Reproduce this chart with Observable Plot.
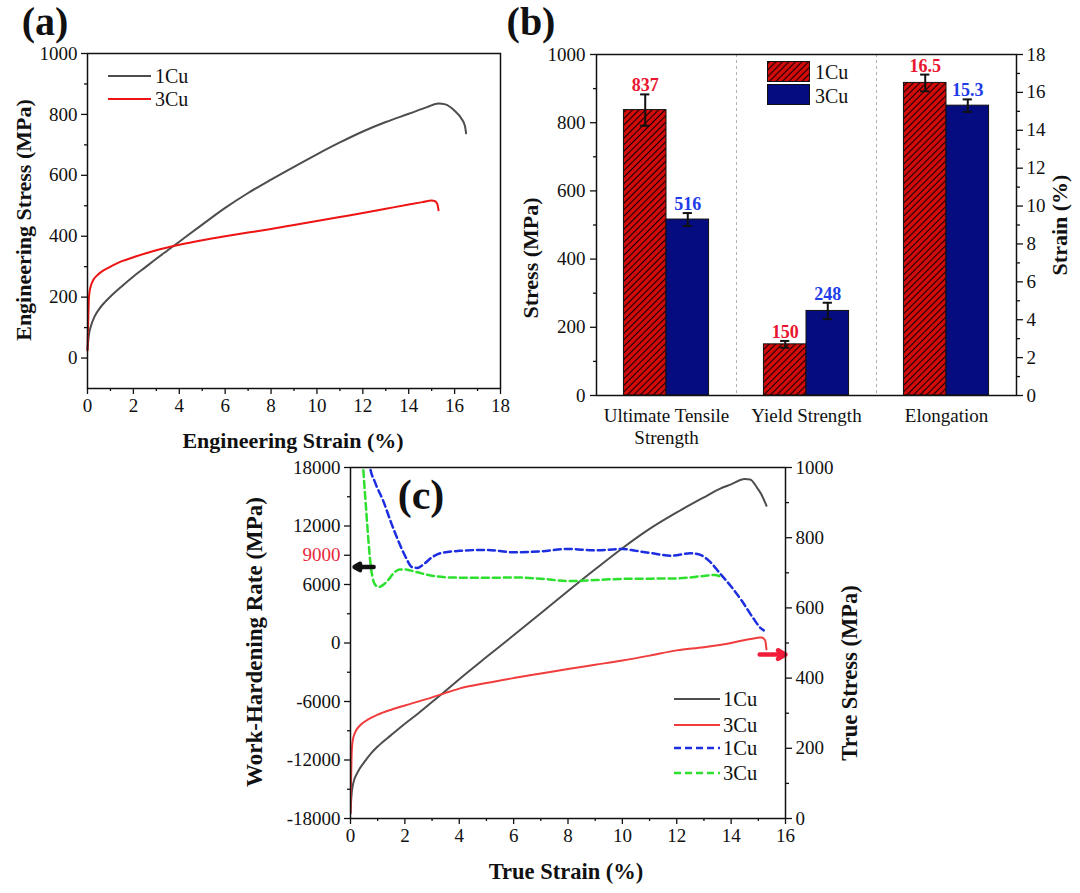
<!DOCTYPE html>
<html><head><meta charset="utf-8">
<script src="https://cdn.jsdelivr.net/npm/d3@7"></script>
<script src="https://cdn.jsdelivr.net/npm/@observablehq/plot@0.6"></script>
<style>
body{margin:0;background:#fff;}
#root{position:relative;width:1080px;height:893px;overflow:hidden;background:#fff;font-family:"Liberation Serif",serif;}
#root svg.pl{position:absolute;}
.t{position:absolute;white-space:nowrap;line-height:1;font-family:"Liberation Serif",serif;}
</style></head><body><div id="root"></div>
<script>
// ---------------- DATA ----------------
// (a) engineering stress-strain  [strain %, stress MPa]
const eng1Cu = [[0,28],[0.05,70],[0.15,105],[0.3,135],[0.5,160],[0.75,183],[1,202],[1.5,236],[2,268],[2.5,297],[3,326],[3.5,354],[4,382],[5,438],[6,493],[7,542],[8,586],[9,628],[10,669],[11,708],[12,744],[13,775],[14,802],[14.8,824],[15.3,836],[15.6,833],[16,812],[16.3,786],[16.45,762],[16.5,738]];
const eng3Cu = [[0,25],[0.03,120],[0.06,195],[0.1,222],[0.15,238],[0.25,256],[0.4,270],[0.6,283],[0.8,292],[1,300],[1.5,318],[2,331],[3,354],[4,372],[5,387],[6,400],[7,412],[8,424],[9,437],[10,450],[11,463],[12,476],[13,490],[14,504],[14.6,512],[15,517],[15.15,515],[15.25,505],[15.3,485]];

// (b) mechanical properties
const categories = ["Ultimate Tensile\nStrength", "Yield Strength", "Elongation"];
const series = ["1Cu", "3Cu"];
const values1Cu = [837, 150, 16.5];
const values3Cu = [516, 248, 15.3];
const errors1Cu = [46, 10, 0.44];
const errors3Cu = [19, 24, 0.33];
const onStrainAxis = [false, false, true];

// (c) true stress [strain %, MPa] and work-hardening rate [strain %, MPa]
const true1Cu = [[0,15],[0.03,60],[0.1,100],[0.25,130],[0.5,160],[0.75,185],[1,205],[1.5,238],[2,270],[2.5,300],[3,332],[3.5,364],[4,397],[5,460],[6,522],[7,585],[8,648],[9,710],[10,770],[11,825],[12,872],[13,915],[13.6,940],[14,952],[14.5,967],[14.7,966],[14.95,943],[15.1,925],[15.3,891]];
const true3Cu = [[0,15],[0.02,100],[0.04,180],[0.07,215],[0.12,235],[0.2,250],[0.35,265],[0.5,275],[0.75,287],[1,296],[1.5,310],[2,322],[3,345],[3.5,358],[4,370],[5,386],[6,400],[7,413],[8,426],[9,438],[10,450],[11,464],[12,479],[13,488],[14,500],[14.6,510],[15,515],[15.12,516],[15.25,508],[15.3,482]];
const whr1Cu = [[0.62,20000],[0.72,18000],[0.9,16500],[1.2,14600],[1.5,12300],[1.8,10200],[2.05,8700],[2.25,7800],[2.45,7700],[2.7,8100],[3.0,8800],[3.3,9200],[4,9450],[5,9550],[6,9300],[7,9400],[8,9650],[9,9500],[10,9650],[10.5,9450],[11,9250],[11.8,8950],[12.5,9200],[12.8,9100],[13.2,8400],[13.6,7100],[14.0,5800],[14.4,4300],[14.8,2600],[15.1,1500],[15.2,1300]];
const whr3Cu = [[0.42,20000],[0.49,17000],[0.58,13500],[0.66,10500],[0.75,7800],[0.85,6300],[0.95,5850],[1.05,5750],[1.2,5950],[1.4,6500],[1.6,7200],[1.8,7550],[2.0,7550],[2.4,7300],[3.0,6900],[3.5,6750],[4,6700],[5,6680],[6,6720],[7,6600],[8,6350],[9,6450],[10,6580],[11,6600],[12,6620],[13,6880],[13.4,6980],[13.6,6800]];
// annotation arrows in (c): black one points to left axis, red one to right axis
const arrowLeft = {from: 0.85, to: 0.15, rate: 7800};
const arrowRight = {from: 15.05, to: 16, stress: 467};

// ---------------- HELPERS ----------------
const root = document.getElementById("root");
const FONT = "Liberation Serif";
const INK = "#111";
function txt(t, x, y, o = {}) {
  const d = document.createElement("div");
  d.className = "t";
  d.textContent = t;
  d.style.left = x + "px"; d.style.top = y + "px";
  d.style.fontSize = (o.size || 20) + "px";
  d.style.fontWeight = o.bold ? "bold" : "normal";
  d.style.color = o.color || INK;
  const tx = o.anchor === "start" ? "0" : "-50%";
  d.style.transform = `translate(${tx},-50%)` + (o.rot ? " rotate(-90deg)" : "");
  root.appendChild(d);
}
function place(svg, left, top) {
  svg.classList.add("pl");
  svg.style.left = left + "px"; svg.style.top = top + "px";
  root.appendChild(svg);
  return svg;
}
const fmt = d => String(d);
const none = () => "";
const baseStyle = {fontFamily: FONT, fontSize: "19px", color: INK, background: "transparent", overflow: "visible"};
const P = d => d[0], Q = d => d[1];

// ---------------- PANEL (a) ----------------
const plotA = Plot.plot({
  width: 510, height: 460,
  marginLeft: 87, marginRight: 10, marginTop: 53, marginBottom: 72,
  style: baseStyle,
  x: {domain: [0, 18], axis: null},
  y: {domain: [-100, 1000], axis: null},
  marks: [
    Plot.axisX(d3.range(0, 19, 2), {anchor: "bottom", tickSize: 6, tickPadding: 4, tickFormat: fmt, label: null, fontSize: 19, strokeWidth: 1.3}),
    Plot.axisX(d3.range(1, 18, 2), {anchor: "bottom", tickSize: 3, tickFormat: none, label: null, strokeWidth: 1.3}),
    Plot.axisY(d3.range(0, 1001, 200), {anchor: "left", tickSize: 6, tickPadding: 4, tickFormat: fmt, label: null, fontSize: 19, strokeWidth: 1.3}),
    Plot.axisY(d3.range(100, 1000, 200), {anchor: "left", tickSize: 3, tickFormat: none, label: null, strokeWidth: 1.3}),
    Plot.line(eng1Cu, {x: P, y: Q, stroke: "#4d4d4d", strokeWidth: 2, curve: "monotone-x"}),
    Plot.line(eng3Cu, {x: P, y: Q, stroke: "#ee1414", strokeWidth: 2, curve: "monotone-x"}),
    Plot.frame({stroke: INK, strokeWidth: 1.5})
  ]
});
place(plotA, 0, 0);

// ---------------- PANEL (b) ----------------
const k = 1000 / 18; // strain % -> stress-axis units
const pairOffset = 0.196, barW = 0.304, capW = 0.033;
const rows = [];
categories.forEach((c, i) => {
  [[values1Cu, errors1Cu, "1Cu"], [values3Cu, errors3Cu, "3Cu"]].forEach(([vals, errs, s], j) => {
    const f = onStrainAxis[i] ? k : 1;
    const x1 = i + pairOffset + j * barW;
    rows.push({i, s, x1, x2: x1 + barW, xc: x1 + barW / 2, v: vals[i] * f, e: errs[i] * f, label: String(vals[i])});
  });
});
const r1 = rows.filter(d => d.s === "1Cu"), r3 = rows.filter(d => d.s === "3Cu");
const plotB = Plot.plot({
  width: 575, height: 460,
  marginLeft: 91, marginRight: 64, marginTop: 54, marginBottom: 65,
  style: baseStyle,
  x: {domain: [0, categories.length], axis: null},
  y: {domain: [0, 1000], axis: null},
  marks: [
    Plot.ruleX(d3.range(1, categories.length), {stroke: "#b0b0b0", strokeDasharray: "3,3", strokeWidth: 1}),
    Plot.rectY(r1, {x1: "x1", x2: "x2", y1: 0, y2: "v", fill: "url(#hatch)", stroke: INK, strokeWidth: 1}),
    Plot.rectY(r3, {x1: "x1", x2: "x2", y1: 0, y2: "v", fill: "#040c80", stroke: INK, strokeWidth: 1}),
    Plot.ruleX(rows, {x: "xc", y1: d => d.v - d.e, y2: d => d.v + d.e, stroke: INK, strokeWidth: 2}),
    Plot.ruleY(rows, {y: d => d.v + d.e, x1: d => d.xc - capW, x2: d => d.xc + capW, stroke: INK, strokeWidth: 2}),
    Plot.ruleY(rows, {y: d => d.v - d.e, x1: d => d.xc - capW, x2: d => d.xc + capW, stroke: INK, strokeWidth: 2}),
    Plot.text(r1, {x: "xc", y: d => d.v + d.e, text: "label", dy: -3, lineAnchor: "bottom", fill: "#e8162e", fontWeight: "bold", fontSize: 18}),
    Plot.text(r3, {x: "xc", y: d => d.v + d.e, text: "label", dy: -3, lineAnchor: "bottom", fill: "#1e3ce8", fontWeight: "bold", fontSize: 18}),
    Plot.axisY(d3.range(0, 1001, 200), {anchor: "left", tickSize: 6, tickPadding: 5, tickFormat: fmt, label: null, fontSize: 19, strokeWidth: 1.3}),
    Plot.axisY(d3.range(100, 1000, 200), {anchor: "left", tickSize: 3, tickFormat: none, label: null, strokeWidth: 1.3}),
    Plot.axisY(d3.range(0, 19, 2).map(v => v * k), {anchor: "right", tickSize: 6, tickPadding: 4, tickFormat: v => String(Math.round(v / k)), label: null, fontSize: 19, strokeWidth: 1.3}),
    Plot.axisY(d3.range(1, 18, 2).map(v => v * k), {anchor: "right", tickSize: 3, tickFormat: none, label: null, strokeWidth: 1.3}),
    Plot.axisX(categories.map((c, i) => i + 0.5), {anchor: "bottom", tickSize: 0, tickPadding: 10, tickFormat: v => categories[Math.floor(v)], label: null, fontSize: 19, lineHeight: 1.2}),
    Plot.frame({stroke: INK, strokeWidth: 1.5})
  ]
});
const defs = document.createElementNS("http://www.w3.org/2000/svg", "defs");
defs.innerHTML = `<pattern id="hatch" patternUnits="userSpaceOnUse" width="4.6" height="4.6" patternTransform="rotate(45)"><rect width="4.6" height="4.6" fill="#d80b0b"/><line x1="2.3" y1="0" x2="2.3" y2="4.6" stroke="#1a0000" stroke-width="1.2"/></pattern>`;
plotB.insertBefore(defs, plotB.firstChild);
place(plotB, 505, 0);

// ---------------- PANEL (c) ----------------
const toRate = s => s * 36 - 18000; // right (stress) axis -> left (rate) axis units
const plotC = Plot.plot({
  width: 660, height: 443,
  marginLeft: 120, marginRight: 105, marginTop: 17, marginBottom: 75,
  style: baseStyle,
  x: {domain: [0, 16], axis: null},
  y: {domain: [-18000, 18000], axis: null},
  marks: [
    Plot.line(true1Cu, {x: P, y: d => toRate(d[1]), stroke: "#4d4d4d", strokeWidth: 2, curve: "monotone-x", clip: true}),
    Plot.line(true3Cu, {x: P, y: d => toRate(d[1]), stroke: "#f03c3c", strokeWidth: 2, curve: "monotone-x", clip: true}),
    Plot.line(whr1Cu, {x: P, y: Q, stroke: "#1c2ee0", strokeWidth: 2.5, strokeDasharray: "7,4", curve: "monotone-x", clip: true}),
    Plot.line(whr3Cu, {x: P, y: Q, stroke: "#2ee02e", strokeWidth: 2.5, strokeDasharray: "7,4", curve: "monotone-x", clip: true}),
    Plot.arrow([arrowLeft], {x1: "from", x2: "to", y1: "rate", y2: "rate", stroke: INK, strokeWidth: 4.5, headLength: 9, insetStart: 0, insetEnd: 0}),
    Plot.arrow([arrowRight], {x1: "from", x2: "to", y1: d => toRate(d.stress), y2: d => toRate(d.stress), stroke: "#f01c3a", strokeWidth: 4.5, headLength: 9, insetStart: 0, insetEnd: 0}),
    Plot.axisX(d3.range(0, 17, 2), {anchor: "bottom", tickSize: 6, tickPadding: 4, tickFormat: fmt, label: null, fontSize: 19, strokeWidth: 1.3}),
    Plot.axisX(d3.range(1, 16, 2), {anchor: "bottom", tickSize: 3, tickFormat: none, label: null, strokeWidth: 1.3}),
    Plot.axisY([-18000, -12000, -6000, 0, 6000, 12000, 18000], {anchor: "left", tickSize: 6, tickPadding: 4, tickFormat: fmt, label: null, fontSize: 19, strokeWidth: 1.3}),
    Plot.axisY([9000], {anchor: "left", tickSize: 6, tickPadding: 4, tickFormat: fmt, label: null, fontSize: 19, fill: "#e8283c", stroke: INK, strokeWidth: 1.3}),
    Plot.axisY([-15000, -9000, -3000, 3000, 15000], {anchor: "left", tickSize: 3, tickFormat: none, label: null, strokeWidth: 1.3}),
    Plot.axisY(d3.range(0, 1001, 200).map(toRate), {anchor: "right", tickSize: 6, tickPadding: 4, tickFormat: v => String(Math.round((v + 18000) / 36)), label: null, fontSize: 19, strokeWidth: 1.3}),
    Plot.axisY(d3.range(100, 1000, 200).map(toRate), {anchor: "right", tickSize: 3, tickFormat: none, label: null, strokeWidth: 1.3}),
    Plot.frame({stroke: INK, strokeWidth: 1.5})
  ]
});
place(plotC, 230, 450);

// ---------------- TEXT, LEGENDS ----------------
txt("(a)", 45, 22, {size: 40, bold: true});
txt("(b)", 531, 22, {size: 40, bold: true});
txt("(c)", 421, 495, {size: 42, bold: true});

txt("Engineering Stress (MPa)", 24, 220, {size: 22, bold: true, rot: true});
txt("Engineering Strain (%)", 293, 441, {size: 22, bold: true});
txt("Stress (MPa)", 531, 258, {size: 22, bold: true, rot: true});
txt("Strain (%)", 1060, 225, {size: 22, bold: true, rot: true});
txt("Work-Hardening Rate (MPa)", 254, 642, {size: 23, bold: true, rot: true});
txt("True Stress (MPa)", 850, 673, {size: 22.5, bold: true, rot: true});
txt("True Strain (%)", 566, 872, {size: 22.5, bold: true});

function legendLine(x1, x2, y, color, dash, w) {
  const svg = document.createElementNS("http://www.w3.org/2000/svg", "svg");
  svg.setAttribute("width", x2 - x1); svg.setAttribute("height", 8);
  svg.style.position = "absolute"; svg.style.left = x1 + "px"; svg.style.top = (y - 4) + "px";
  svg.innerHTML = `<line x1="0" y1="4" x2="${x2 - x1}" y2="4" stroke="${color}" stroke-width="${w}" ${dash ? `stroke-dasharray="${dash}"` : ""}/>`;
  root.appendChild(svg);
}
function legendBox(x1, y1, x2, y2, fill) {
  const svg = document.createElementNS("http://www.w3.org/2000/svg", "svg");
  svg.setAttribute("width", x2 - x1); svg.setAttribute("height", y2 - y1);
  svg.style.position = "absolute"; svg.style.left = x1 + "px"; svg.style.top = y1 + "px";
  svg.innerHTML = `<defs><pattern id="hatchL" patternUnits="userSpaceOnUse" width="4.6" height="4.6" patternTransform="rotate(45)"><rect width="4.6" height="4.6" fill="#d80b0b"/><line x1="2.3" y1="0" x2="2.3" y2="4.6" stroke="#1a0000" stroke-width="1.2"/></pattern></defs><rect x="0.5" y="0.5" width="${x2 - x1 - 1}" height="${y2 - y1 - 1}" fill="${fill}" stroke="#111" stroke-width="1"/>`;
  root.appendChild(svg);
}
// (a) legend
legendLine(108, 151, 76, "#4d4d4d", null, 2);
legendLine(108, 151, 99, "#ee1414", null, 2);
txt(series[0], 155, 76, {size: 20, anchor: "start"});
txt(series[1], 155, 99, {size: 20, anchor: "start"});
// (b) legend
legendBox(767, 61, 810, 82, "url(#hatchL)");
legendBox(767, 84, 810, 105, "#040c80");
txt(series[0], 815, 72, {size: 20, anchor: "start"});
txt(series[1], 815, 96, {size: 20, anchor: "start"});
// (c) legend
legendLine(674, 720, 699, "#4d4d4d", null, 2);
legendLine(674, 720, 725, "#f03c3c", null, 2);
legendLine(674, 720, 748, "#1c2ee0", "7,4", 2.5);
legendLine(674, 720, 773, "#2ee02e", "7,4", 2.5);
txt(series[0], 723, 699, {size: 20.5, anchor: "start"});
txt(series[1], 723, 725, {size: 20.5, anchor: "start"});
txt(series[0], 723, 748, {size: 20.5, anchor: "start"});
txt(series[1], 723, 773, {size: 20.5, anchor: "start"});
</script></body></html>
